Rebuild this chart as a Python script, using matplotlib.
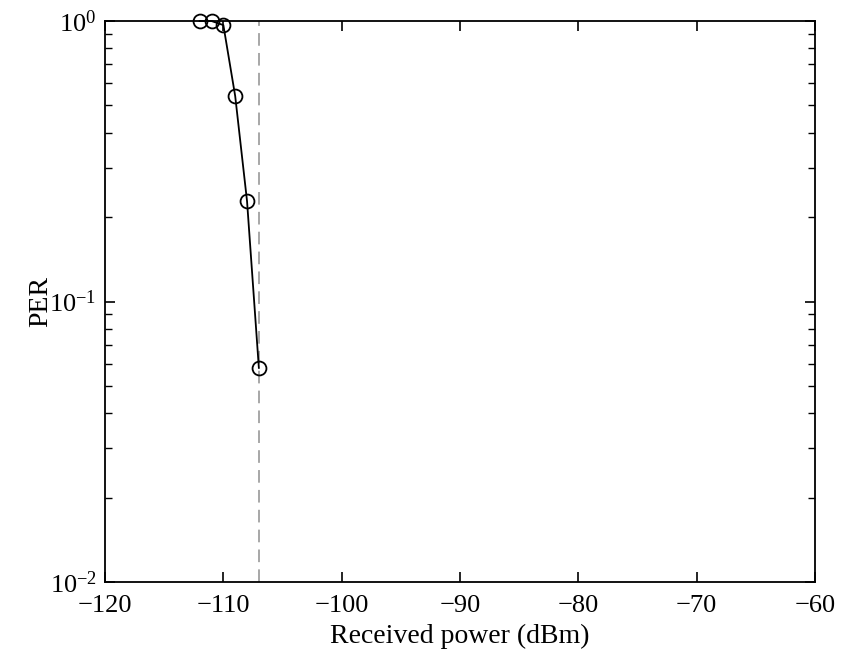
import numpy as np
import matplotlib.pyplot as plt

plt.rcParams['font.family'] = ['Liberation Serif', 'DejaVu Serif']
plt.rcParams['mathtext.fontset'] = 'stix'

power = [-112, -111, -110, -109, -108, -107]
per = [1.0, 1.0, 0.967, 0.54, 0.228, 0.058]
sensitivity = -107

fig = plt.figure(figsize=(8.43, 6.53), dpi=100)
ax = fig.add_axes([0.1246, 0.1087, 0.8422, 0.8591])

ax.axvline(sensitivity, color='#a0a0a0', linestyle=(0, (7, 4)), linewidth=1.3)
ax.plot(power, per, color='black', linewidth=1.3, marker='o', markersize=10,
        markerfacecolor='none', markeredgecolor='black', markeredgewidth=1.3,
        clip_on=False, zorder=3)

ax.set_yscale('log')
ax.set_xlim(-120, -60)
ax.set_ylim(1e-2, 1e0)
ax.set_xticks(np.arange(-120, -59, 10))
ax.set_xticklabels(['\u2212120', '\u2212110', '\u2212100', '\u221290', '\u221280', '\u221270', '\u221260'])

ax.tick_params(which='both', direction='in', top=True, right=True, labelsize=19)
ax.tick_params(axis='x', which='major', pad=9)
ax.tick_params(axis='y', which='major', pad=6)
ax.tick_params(which='major', length=7, width=1.2)
ax.tick_params(which='minor', length=5, width=1.0)
ax.tick_params(axis='x', which='minor', bottom=False, top=False)
for s in ax.spines.values():
    s.set_linewidth(1.3)

ax.set_xlabel('Received power (dBm)', fontsize=20, labelpad=5)
ax.set_ylabel('PER', fontsize=20, labelpad=-3)

fig.savefig('out.png', dpi=100)
